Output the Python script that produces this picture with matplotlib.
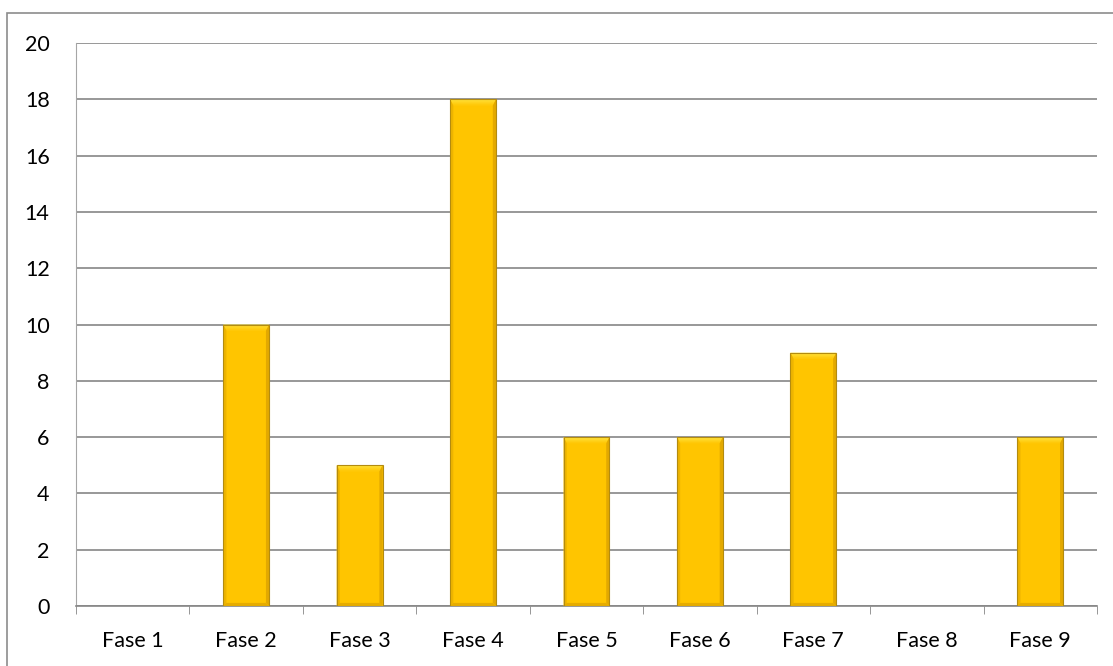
import matplotlib
matplotlib.use("Agg")
import matplotlib.pyplot as plt
from matplotlib.patches import Rectangle, Polygon
import numpy as np

categories = ["Fase 1", "Fase 2", "Fase 3", "Fase 4", "Fase 5", "Fase 6", "Fase 7", "Fase 8", "Fase 9"]
values = [0, 10, 5, 18, 6, 6, 9, 0, 6]
y_ticks = [0, 2, 4, 6, 8, 10, 12, 14, 16, 18, 20]

plt.rcParams["font.family"] = ["Lato", "DejaVu Sans"]

fig = plt.figure(figsize=(11.13, 6.66), dpi=100)
ax = fig.add_axes([0.0683, 0.0901, 0.9173, 0.8453])

# outer chart frame
fig.patches.append(Rectangle((0.0063, -0.2), 1.2, 0.9805 + 0.2, transform=fig.transFigure,
                             fill=False, edgecolor="#8c8c8c", linewidth=1.2, zorder=0))

x = np.arange(len(categories))
bar_w = 0.405
bars = ax.bar(x, values, width=bar_w, color="#FFC500", edgecolor="none", zorder=3)

# bevel shading on each bar
for b in bars:
    h = b.get_height()
    if h <= 0:
        continue
    x0, w = b.get_x(), b.get_width()
    bx = w * 0.07
    by = 0.22
    # top bevel: light band fading into the body
    n = 6
    for i in range(n):
        f0, f1 = i / n, (i + 1) / n
        t = 1 - i / n
        c = np.array([1.0, 0.77, 0.0]) * (1 - t) + np.array([1.0, 0.91, 0.28]) * t
        ax.add_patch(Polygon([(x0 + bx * f0, h - by * f0), (x0 + w - bx * f0, h - by * f0),
                              (x0 + w - bx * f1, h - by * f1), (x0 + bx * f1, h - by * f1)],
                             closed=True, facecolor=c, edgecolor="none", zorder=4))
    left = Polygon([(x0, 0), (x0, h), (x0 + bx, h - by), (x0 + bx, by * 0.5)],
                   closed=True, facecolor="#EDB400", edgecolor="none", zorder=4)
    right = Polygon([(x0 + w, 0), (x0 + w, h), (x0 + w - bx, h - by), (x0 + w - bx, by * 0.5)],
                    closed=True, facecolor="#E3A900", edgecolor="none", zorder=4)
    bottom = Polygon([(x0, 0), (x0 + w, 0), (x0 + w - bx, by * 0.5), (x0 + bx, by * 0.5)],
                     closed=True, facecolor="#E6AC00", edgecolor="none", zorder=4)
    for p in (left, right, bottom):
        ax.add_patch(p)
    ax.add_patch(Rectangle((x0, 0), w, h, fill=False, edgecolor="#B38B10", linewidth=0.8, zorder=5))

ax.set_xlim(-0.5, len(categories) - 0.5)
ax.set_ylim(0, 20)
ax.set_yticks(y_ticks)
ax.set_yticklabels([str(v) for v in y_ticks], fontsize=15.5)
ax.set_xticks(x)
ax.set_xticklabels(categories, fontsize=15.5)
ax.set_xticks(np.arange(len(categories) + 1) - 0.5, minor=True)
ax.tick_params(axis="x", which="major", length=0, pad=18)
ax.tick_params(axis="x", which="minor", length=6, color="#868686", direction="out")
ax.tick_params(axis="y", length=0, pad=19)

ax.yaxis.grid(True, color="#868686", linewidth=1.2, zorder=0)
ax.set_axisbelow(True)
for s in ["top", "right"]:
    ax.spines[s].set_visible(False)
ax.spines["left"].set_color("#a6a6a6")
ax.spines["bottom"].set_color("#868686")
ax.spines["bottom"].set_linewidth(1.2)

fig.savefig("out.png", dpi=100)
